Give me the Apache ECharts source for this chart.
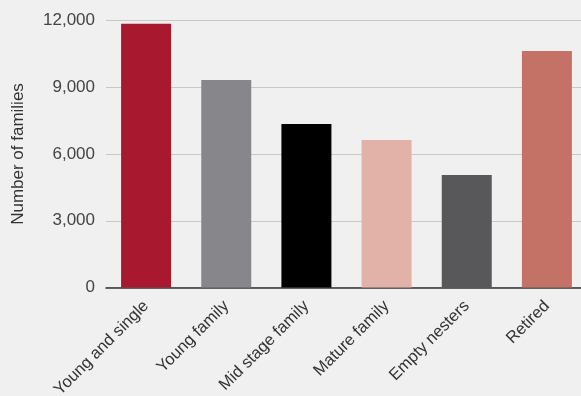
<!DOCTYPE html>
<html>
<head>
<meta charset="utf-8">
<script src="https://cdn.jsdelivr.net/npm/echarts@6/dist/echarts.min.js"></script>
<style>
html,body{margin:0;padding:0;background:#f0f0f0;}
#c{width:581px;height:396px;}
</style>
</head>
<body>
<div id="c"></div>
<script>
const categories = ["Young and single", "Young family", "Mid stage family", "Mature family", "Empty nesters", "Retired"];
const values = [11850, 9330, 7350, 6630, 5060, 10630];
const colors = ["#a8192f", "#87878b", "#000000", "#e2b2a8", "#58585a", "#c47166"];
const yTicks = [0, 3000, 6000, 9000, 12000];

const chart = echarts.init(document.getElementById('c'), null, {renderer: 'canvas'});
chart.setOption({
  backgroundColor: '#f0f0f0',
  animation: false,
  grid: {left: 106, width: 481, top: 20.5, height: 267, containLabel: false, outerBoundsMode: 'none'},
  xAxis: {
    type: 'category',
    data: categories,
    axisLine: {show: true, lineStyle: {color: '#333', width: 1.5}},
    axisTick: {show: false},
    axisLabel: {rotate: 45, fontSize: 16.5, color: '#333', fontFamily: 'Liberation Sans, Arial, sans-serif', margin: 16, interval: 0}
  },
  yAxis: {
    type: 'value',
    min: yTicks[0],
    max: yTicks[yTicks.length - 1],
    interval: 3000,
    name: 'Number of families',
    nameLocation: 'middle',
    nameGap: 79,
    nameTextStyle: {fontSize: 17, color: '#333', fontFamily: 'Liberation Sans, Arial, sans-serif'},
    axisLine: {show: false},
    axisTick: {show: false},
    splitLine: {lineStyle: {color: '#c8c8c8', width: 1}},
    axisLabel: {fontSize: 17, color: '#444', margin: 11, fontFamily: 'Liberation Sans, Arial, sans-serif',
      formatter: v => v.toLocaleString('en-US')}
  },
  series: [{
    type: 'bar',
    barWidth: 50,
    data: values.map((v, i) => ({value: v, itemStyle: {color: colors[i]}}))
  }]
});
</script>
</body>
</html>
